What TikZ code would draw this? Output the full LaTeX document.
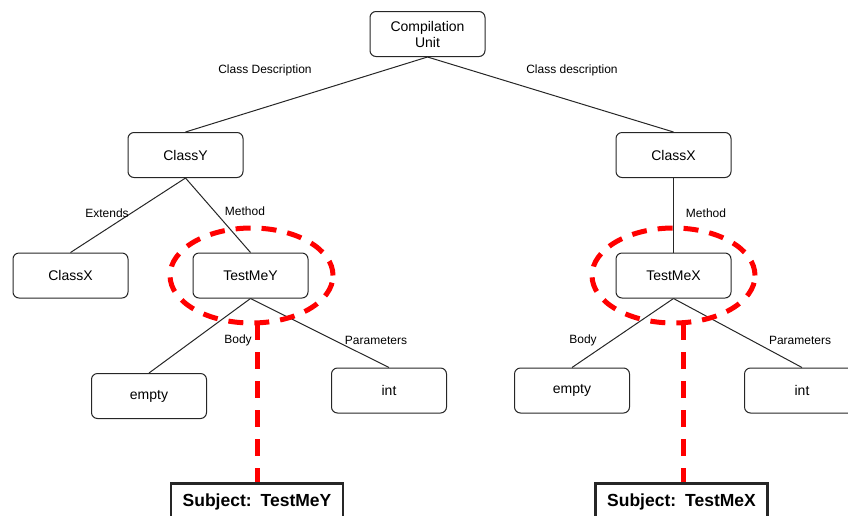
\documentclass[tikz,border=0pt]{standalone}
\usepackage{fontspec}
\setmainfont{Liberation Sans}
\usetikzlibrary{shapes.geometric}
\begin{document}
\begin{tikzpicture}[x=1pt,y=-1pt,
  treebox/.style={draw=black!85, line width=1pt, rounded corners=6pt,
    minimum width=115pt, minimum height=45pt, inner sep=2pt,
    font=\fontsize{14}{16}\selectfont, align=center},
  edge/.style={draw=black!85, line width=1pt},
  elabel/.style={font=\fontsize{12}{13}\selectfont, inner sep=0pt},
  focus/.style={draw=red, line width=5pt, dash pattern=on 15pt off 11pt,
    ellipse, minimum width=163pt, minimum height=95pt, inner sep=0pt},
  focusline/.style={draw=red, line width=5pt, dash pattern=on 17pt off 12pt},
  subjbox/.style={draw=black!85, line width=2.5pt, minimum width=172pt,
    minimum height=38pt, anchor=north, inner sep=0pt,
    font=\fontsize{17.5}{20}\selectfont\bfseries}
]
\useasboundingbox (0,0) rectangle (848,515);

% tree nodes
\node[treebox] (cu) at (427.5,34) {Compilation\\Unit};
\node[treebox] (classy) at (185.5,155) {ClassY};
\node[treebox] (classxr) at (673.5,155) {ClassX};
\node[treebox] (classxl) at (70.5,275.5) {ClassX};
\node[treebox] (tmy) at (250.5,275.5) {TestMeY};
\node[treebox] (tmx) at (673.5,275.5) {TestMeX};
\node[treebox] (emptyl) at (149,396) {empty};
\node[treebox] (intl) at (389,390.5) {int};
\node[treebox] (emptyr) at (572,390.5) {empty};
\node[treebox] (intr) at (802,390.5) {int};

% connectors
\draw[edge] (cu.south) -- (classy.north);
\draw[edge] (cu.south) -- (classxr.north);
\draw[edge] (classy.south) -- (classxl.north);
\draw[edge] (classy.south) -- (tmy.north);
\draw[edge] (classxr.south) -- (tmx.north);
\draw[edge] (tmy.south) -- (emptyl.north);
\draw[edge] (tmy.south) -- (intl.north);
\draw[edge] (tmx.south) -- (emptyr.north);
\draw[edge] (tmx.south) -- (intr.north);

% connector labels
\node[elabel] (l1) at (265,70) {Class Description};
\node[elabel] (l2) at (572,70) {Class description};
\node[elabel] (l3) at (107,213) {Extends};
\node[elabel] (l4) at (245,211) {Method};
\node[elabel] (l5) at (706,213) {Method};
\node[elabel] (l6) at (238,340) {Body};
\node[elabel] (l7) at (376,340) {Parameters};
\node[elabel] (l8) at (583,340) {Body};
\node[elabel] (l9) at (800,340) {Parameters};

% highlighted methods
\node[focus] (fy) at (251.5,275.5) {};
\node[focus] (fx) at (673.5,275.5) {};

% subject boxes
\node[subjbox] (sy) at (257,482) {Subject:\hspace{2.5pt} TestMeY};
\node[subjbox] (sx) at (681.5,482) {Subject:\hspace{2.5pt} TestMeX};

\coordinate (fyb) at (257,323);
\coordinate (fxb) at (683,323);
\draw[focusline] (fyb) -- (fyb |- sy.north);
\draw[focusline] (fxb) -- (fxb |- sx.north);
\end{tikzpicture}
\end{document}
